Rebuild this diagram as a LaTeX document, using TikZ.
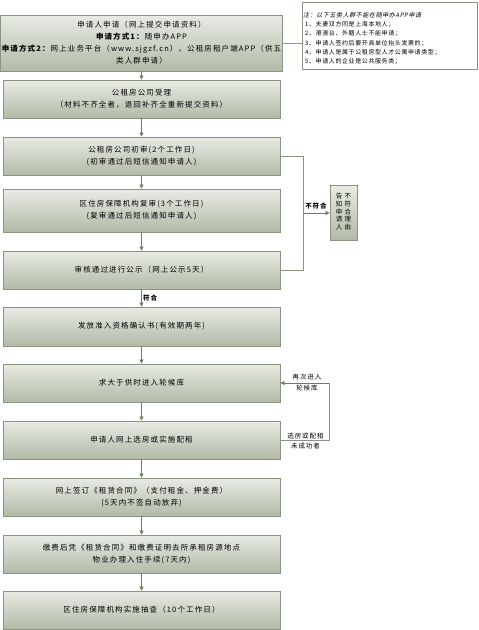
\documentclass[tikz,border=0pt]{standalone}
\usepackage{fontspec}
\setmainfont{Noto Sans CJK SC}
\newfontfamily\spacedcjk[LetterSpace=15]{Noto Sans CJK SC}
\newfontfamily\notecjk[LetterSpace=10]{Noto Sans CJK SC}
\newfontfamily\noteslantcjk[LetterSpace=10,FakeSlant=0.2]{Noto Sans CJK SC}
\usetikzlibrary{arrows.meta}
\definecolor{boxtop}{HTML}{E8EBE4}
\definecolor{boxbot}{HTML}{B2BAA7}
\definecolor{boxline}{HTML}{8A9480}
\definecolor{arrowc}{HTML}{6E7D5E}
\newcommand\boxfnt{\spacedcjk\fontsize{7.5}{12}\selectfont}
\newcommand\notefnt{\notecjk\fontsize{6}{9.3}\selectfont}
\newcommand\labfnt{\spacedcjk\fontsize{6.5}{10.5}\selectfont}
\begin{document}
\begin{tikzpicture}[x=1pt,y=-1pt,
  stepbox/.style={draw=boxline, line width=0.8pt, top color=boxtop, bottom color=boxbot,
    minimum width=277pt, inner sep=1pt, align=center, font=\boxfnt, text=black},
  flow/.style={draw=arrowc, line width=0.7pt, -{Triangle[width=4pt,length=4pt]}},
  link/.style={draw=boxline, line width=0.7pt},
  lab/.style={font=\labfnt, inner sep=0.5pt, align=center, text=black}]
\useasboundingbox (0,0) rectangle (479,630);

\node[stepbox, minimum height=56pt] (b1) at (141.5,43) {申请人申请（网上提交申请资料）\\\textbf{申请方式1：}随申办APP\\\textbf{申请方式2：}网上业务平台（www.sjgzf.cn）、公租房租户端APP（供五\\类人群申请）};
\node[stepbox, minimum height=38pt] (b2) at (141.5,99) {公租房公司受理\\（材料不齐全者，退回补齐全重新提交资料）};
\node[stepbox, minimum height=38pt] (b3) at (141.5,156) {公租房公司初审(2个工作日)\\(初审通过后短信通知申请人)};
\node[stepbox, minimum height=43pt] (b4) at (141.5,210.5) {区住房保障机构复审(3个工作日)\\(复审通过后短信通知申请人)};
\node[stepbox, minimum height=38pt] (b5) at (141.5,270) {审核通过进行公示（网上公示5天）};
\node[stepbox, minimum height=39pt] (b6) at (141.5,326.5) {发放准入资格确认书(有效期两年)};
\node[stepbox, minimum height=38pt] (b7) at (141.5,383) {求大于供时进入轮候库};
\node[stepbox, minimum height=38pt] (b8) at (141.5,440) {申请人网上选房或实施配租};
\node[stepbox, minimum height=38pt] (b9) at (141.5,497) {网上签订《租赁合同》（支付租金、押金费）\\(5天内不签自动放弃)};
\node[stepbox, minimum height=38pt] (b10) at (141.5,554) {缴费后凭《租赁合同》和缴费证明去所承租房源地点\\物业办理入住手续(7天内)};
\node[stepbox, minimum height=38pt] (b11) at (141.5,610) {区住房保障机构实施抽查（10个工作日）};

% note box
\node[draw=boxline, line width=0.8pt, fill=white, minimum width=175pt, minimum height=67pt] (note) at (389.5,35.5) {};
\node[anchor=west, align=left, font=\notefnt, inner sep=0pt] (notetext) at (303,38.5)
 {{\noteslantcjk 注：以下五类人群不能在随申办APP申请}\\
  \hspace{2pt}1、夫妻双方同是上海本地人；\\
  \hspace{2pt}2、港澳台、外籍人士不能申请；\\
  \hspace{2pt}3、申请人签约后要开具单位抬头发票的；\\
  \hspace{2pt}4、申请人是属于公租房型人才公寓申请类型；\\
  \hspace{2pt}5、申请人的企业是公共服务类；};

% side box
\node[draw=boxline, line width=0.8pt, top color=boxtop, bottom color=boxbot,
  minimum width=27pt, minimum height=55pt, inner sep=0pt, font=\labfnt] (side) at (343.5,212.5)
  {\fontsize{6.5}{7.2}\selectfont\begin{tabular}{@{}c@{\hspace{2.5pt}}c@{}}告&不\\知&符\\申&合\\请&理\\人&由\end{tabular}};

% main flow
\draw[flow] (b1) -- (b2);
\draw[flow] (b2) -- (b3);
\draw[flow] (b3) -- (b4);
\draw[flow] (b4) -- (b5);
\draw[flow] (b5) -- (b6);
\draw[flow] (b6) -- (b7);
\draw[flow] (b7) -- (b8);
\draw[flow] (b8) -- (b9);
\draw[flow] (b9) -- (b10);
\draw[flow] (b10) -- (b11);
\node[lab, anchor=west, font=\labfnt\bfseries] (fh) at (142.5,298) {符合};

% note connector
\draw[link] (b1.east) -- (note.west |- b1.east);

% reject loop
\coordinate (r1) at (303,156);
\coordinate (r2) at (303,270);
\coordinate (rm) at (303,213);
\draw[link] (b3.east) -- (r1) -- (r2) -- (b5.east);
\draw[flow] (rm) -- (side.west |- rm);
\node[lab, font=\labfnt\bfseries] (bfh) at (316,206.5) {不符合};

% re-enter loop
\coordinate (q1) at (329,440);
\coordinate (q2) at (329,383);
\draw[link] (b8.east) -- (q1) -- (q2);
\draw[flow] (q2) -- (b7.east);
\node[lab] (zc) at (307,382.5) {再次进入\\轮候库};
\node[lab] (xf) at (305.5,441) {选房或配租\\未成功者};
\end{tikzpicture}
\end{document}
